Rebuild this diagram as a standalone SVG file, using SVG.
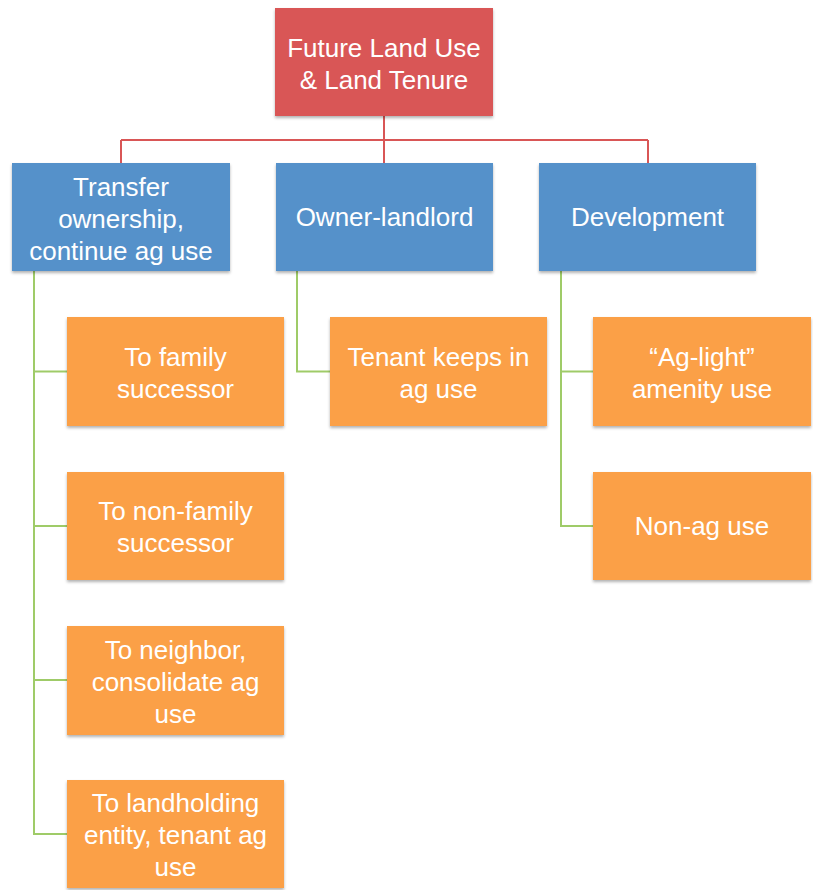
<svg xmlns="http://www.w3.org/2000/svg" width="813" height="890" viewBox="0 0 813 890">
<defs>
<filter id="sh" x="-10%" y="-10%" width="120%" height="130%">
<feDropShadow dx="0" dy="2" stdDeviation="1.5" flood-color="#000" flood-opacity="0.3"/>
</filter>
<style>
.red{fill:#D95656;filter:url(#sh)}
.blue{fill:#5591CA;filter:url(#sh)}
.orange{fill:#FBA046;filter:url(#sh)}
text{font-family:"Liberation Sans",Arial,sans-serif;font-size:26px;fill:#fff;text-anchor:middle}
.rl{stroke:#D95656;stroke-width:2;fill:none}
.gl{stroke:#9FCB68;stroke-width:2;fill:none}
</style>
</defs>
<rect width="813" height="890" fill="#fff"/>
<g id="connectors">
<path class="rl" d="M384 116V140M121 140H648M121 140V163M384 140V163M648 140V163"/>
<path class="gl" d="M34 271V834H67M34 371.5H67M34 526H67M34 680H67"/>
<path class="gl" d="M297 271V371.5H330"/>
<path class="gl" d="M561 271V526H593M561 371.5H593"/>
</g>
<g id="root"><rect class="red" x="275" y="8" width="218" height="108"/><text x="384" y="57">Future Land Use</text><text x="384" y="89">&amp; Land Tenure</text></g>
<g id="transfer"><rect class="blue" x="12" y="163" width="218" height="108"/><text x="121" y="196">Transfer</text><text x="121" y="228">ownership,</text><text x="121" y="260">continue ag use</text></g>
<g id="owner"><rect class="blue" x="276" y="163" width="217" height="108"/><text x="384.5" y="226">Owner-landlord</text></g>
<g id="development"><rect class="blue" x="539" y="163" width="217" height="108"/><text x="647.5" y="226">Development</text></g>
<g id="family"><rect class="orange" x="67" y="317" width="217" height="109"/><text x="175.5" y="366">To family</text><text x="175.5" y="398">successor</text></g>
<g id="nonfamily"><rect class="orange" x="67" y="472" width="217" height="108"/><text x="175.5" y="520">To non-family</text><text x="175.5" y="552">successor</text></g>
<g id="neighbor"><rect class="orange" x="67" y="626" width="217" height="109"/><text x="175.5" y="659">To neighbor,</text><text x="175.5" y="691">consolidate ag</text><text x="175.5" y="723">use</text></g>
<g id="landholding"><rect class="orange" x="67" y="780" width="217" height="108"/><text x="175.5" y="812">To landholding</text><text x="175.5" y="844">entity, tenant ag</text><text x="175.5" y="876">use</text></g>
<g id="tenant"><rect class="orange" x="330" y="317" width="217" height="109"/><text x="438.5" y="366">Tenant keeps in</text><text x="438.5" y="398">ag use</text></g>
<g id="aglight"><rect class="orange" x="593" y="317" width="218" height="109"/><text x="702" y="366">“Ag-light”</text><text x="702" y="398">amenity use</text></g>
<g id="nonag"><rect class="orange" x="593" y="472" width="218" height="108"/><text x="702" y="535">Non-ag use</text></g>
</svg>
